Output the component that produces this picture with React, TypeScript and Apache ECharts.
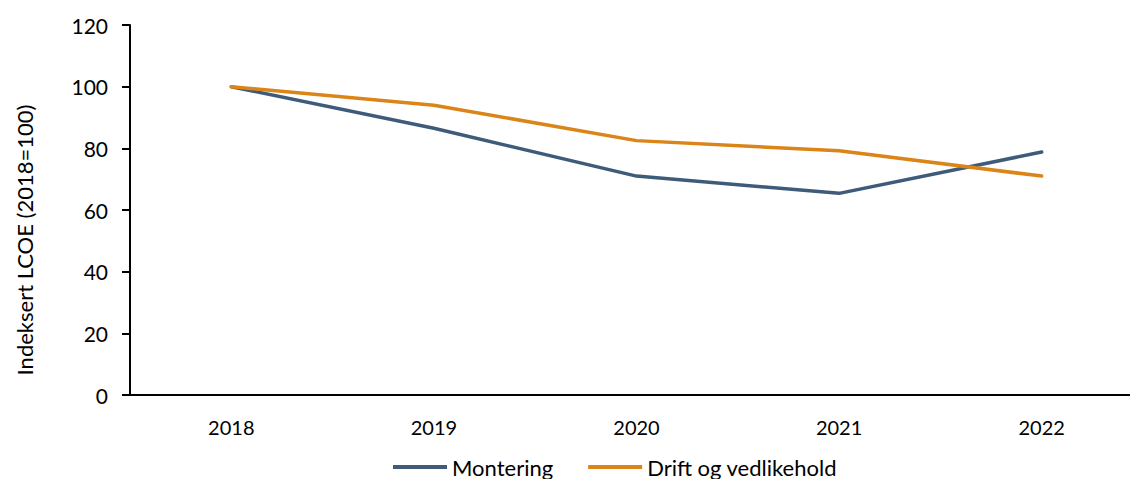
import React, { useEffect, useRef } from "react";
import * as echarts from "echarts";

const categories = ["2018", "2019", "2020", "2021", "2022"];
const montering = [100, 86.5, 71, 65.4, 78.8];
const drift = [100, 94, 82.5, 79.2, 71];
const seriesNames = ["Montering", "Drift og vedlikehold"];
const yTitle = "Indeksert LCOE (2018=100)";

const FONT = "Lato";

export default function App() {
  const ref = useRef<HTMLDivElement>(null);
  useEffect(() => {
    if (!ref.current) return;
    const chart = echarts.init(ref.current, undefined, { renderer: "svg" });
    chart.setOption({
      animation: false,
      textStyle: { fontFamily: FONT },
      grid: { left: 130, top: 25, bottom: 84, right: 7 },
      legend: {
        data: seriesNames,
        left: 388,
        top: 451,
        icon: "rect",
        itemWidth: 54,
        itemHeight: 4,
        itemGap: 35,
        textStyle: { fontFamily: FONT, fontSize: 22, color: "#000" },
      },
      graphic: [
        {
          type: "text",
          x: 24,
          y: 240,
          rotation: Math.PI / 2,
          style: {
            text: yTitle,
            fontFamily: FONT,
            fontSize: 22,
            fill: "#000",
            align: "center",
            verticalAlign: "middle",
          },
        },
      ],
      xAxis: {
        type: "category",
        data: categories,
        boundaryGap: true,
        axisLine: { lineStyle: { color: "#000", width: 2 } },
        axisTick: { show: false },
        axisLabel: { color: "#000", fontSize: 20, margin: 22, fontFamily: FONT },
        splitLine: { show: false },
      },
      yAxis: {
        type: "value",
        min: 0,
        max: 120,
        interval: 20,
        axisLine: { show: true, lineStyle: { color: "#000", width: 2 } },
        axisTick: { show: true, length: 8, lineStyle: { color: "#000", width: 2 } },
        axisLabel: { color: "#000", fontSize: 21, margin: 22, fontFamily: FONT },
        splitLine: { show: false },
      },
      series: [
        {
          name: seriesNames[0],
          type: "line",
          data: montering,
          symbol: "none",
          lineStyle: { color: "#3E5B7A", width: 3.5, cap: "round" },
          itemStyle: { color: "#3E5B7A" },
        },
        {
          name: seriesNames[1],
          type: "line",
          data: drift,
          symbol: "none",
          lineStyle: { color: "#DB8418", width: 3.5, cap: "round" },
          itemStyle: { color: "#DB8418" },
        },
      ],
    });
    return () => chart.dispose();
  }, []);
  return (
    <div
      style={{
        position: "fixed",
        left: 0,
        top: 0,
        width: 1130,
        height: 479,
        overflow: "hidden",
        background: "#fff",
      }}
    >
      <div ref={ref} style={{ width: 1150, height: 479 }} />
    </div>
  );
}
